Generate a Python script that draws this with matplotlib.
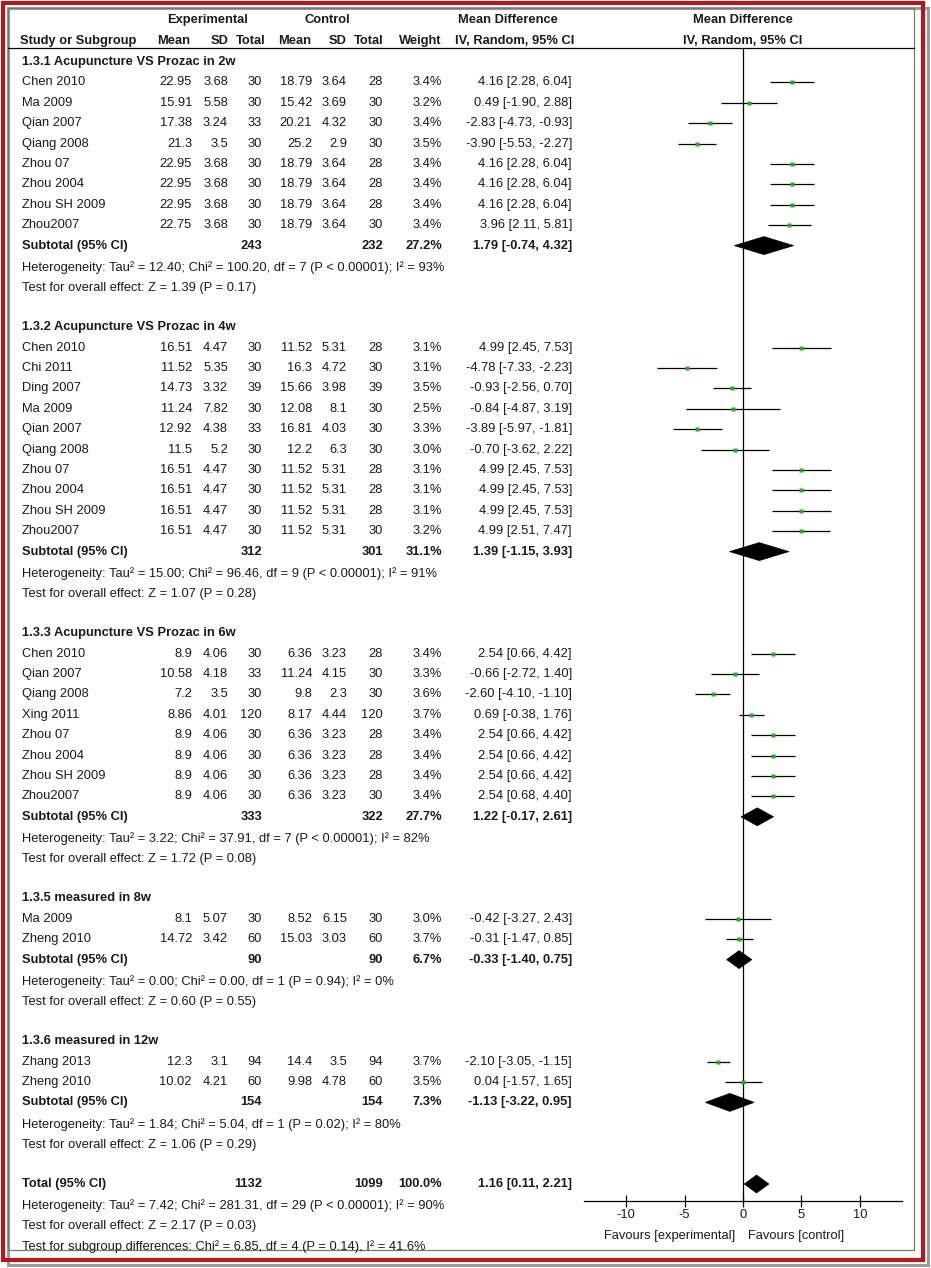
import matplotlib.pyplot as plt
from matplotlib.patches import Rectangle, Polygon

plt.rcParams['font.family'] = ['Liberation Sans', 'DejaVu Sans']

# ---------------- data ----------------
group_titles = ["1.3.1 Acupuncture VS Prozac in 2w", "1.3.2 Acupuncture VS Prozac in 4w",
                "1.3.3 Acupuncture VS Prozac in 6w", "1.3.5 measured in 8w",
                "1.3.6 measured in 12w"]

study = ["Chen 2010", "Ma 2009", "Qian 2007", "Qiang 2008", "Zhou 07", "Zhou 2004", "Zhou SH 2009", "Zhou2007",
         "Chen 2010", "Chi 2011", "Ding 2007", "Ma 2009", "Qian 2007", "Qiang 2008", "Zhou 07", "Zhou 2004",
         "Zhou SH 2009", "Zhou2007",
         "Chen 2010", "Qian 2007", "Qiang 2008", "Xing 2011", "Zhou 07", "Zhou 2004", "Zhou SH 2009", "Zhou2007",
         "Ma 2009", "Zheng 2010",
         "Zhang 2013", "Zheng 2010"]
group_of = [0] * 8 + [1] * 10 + [2] * 8 + [3] * 2 + [4] * 2

exp_mean = [22.95, 15.91, 17.38, 21.3, 22.95, 22.95, 22.95, 22.75,
            16.51, 11.52, 14.73, 11.24, 12.92, 11.5, 16.51, 16.51, 16.51, 16.51,
            8.9, 10.58, 7.2, 8.86, 8.9, 8.9, 8.9, 8.9,
            8.1, 14.72,
            12.3, 10.02]
exp_sd = [3.68, 5.58, 3.24, 3.5, 3.68, 3.68, 3.68, 3.68,
          4.47, 5.35, 3.32, 7.82, 4.38, 5.2, 4.47, 4.47, 4.47, 4.47,
          4.06, 4.18, 3.5, 4.01, 4.06, 4.06, 4.06, 4.06,
          5.07, 3.42,
          3.1, 4.21]
exp_n = [30, 30, 33, 30, 30, 30, 30, 30,
         30, 30, 39, 30, 33, 30, 30, 30, 30, 30,
         30, 33, 30, 120, 30, 30, 30, 30,
         30, 60,
         94, 60]
ctl_mean = [18.79, 15.42, 20.21, 25.2, 18.79, 18.79, 18.79, 18.79,
            11.52, 16.3, 15.66, 12.08, 16.81, 12.2, 11.52, 11.52, 11.52, 11.52,
            6.36, 11.24, 9.8, 8.17, 6.36, 6.36, 6.36, 6.36,
            8.52, 15.03,
            14.4, 9.98]
ctl_sd = [3.64, 3.69, 4.32, 2.9, 3.64, 3.64, 3.64, 3.64,
          5.31, 4.72, 3.98, 8.1, 4.03, 6.3, 5.31, 5.31, 5.31, 5.31,
          3.23, 4.15, 2.3, 4.44, 3.23, 3.23, 3.23, 3.23,
          6.15, 3.03,
          3.5, 4.78]
ctl_n = [28, 30, 30, 30, 28, 28, 28, 30,
         28, 30, 39, 30, 30, 30, 28, 28, 28, 30,
         28, 30, 30, 120, 28, 28, 28, 30,
         30, 60,
         94, 60]
weight = [3.4, 3.2, 3.4, 3.5, 3.4, 3.4, 3.4, 3.4,
          3.1, 3.1, 3.5, 2.5, 3.3, 3.0, 3.1, 3.1, 3.1, 3.2,
          3.4, 3.3, 3.6, 3.7, 3.4, 3.4, 3.4, 3.4,
          3.0, 3.7,
          3.7, 3.5]
md = [4.16, 0.49, -2.83, -3.90, 4.16, 4.16, 4.16, 3.96,
      4.99, -4.78, -0.93, -0.84, -3.89, -0.70, 4.99, 4.99, 4.99, 4.99,
      2.54, -0.66, -2.60, 0.69, 2.54, 2.54, 2.54, 2.54,
      -0.42, -0.31,
      -2.10, 0.04]
ci_lo = [2.28, -1.90, -4.73, -5.53, 2.28, 2.28, 2.28, 2.11,
         2.45, -7.33, -2.56, -4.87, -5.97, -3.62, 2.45, 2.45, 2.45, 2.51,
         0.66, -2.72, -4.10, -0.38, 0.66, 0.66, 0.66, 0.68,
         -3.27, -1.47,
         -3.05, -1.57]
ci_hi = [6.04, 2.88, -0.93, -2.27, 6.04, 6.04, 6.04, 5.81,
         7.53, -2.23, 0.70, 3.19, -1.81, 2.22, 7.53, 7.53, 7.53, 7.47,
         4.42, 1.40, -1.10, 1.76, 4.42, 4.42, 4.42, 4.40,
         2.43, 0.85,
         -1.15, 1.65]

sub_exp_n = [243, 312, 333, 90, 154]
sub_ctl_n = [232, 301, 322, 90, 154]
sub_weight = [27.2, 31.1, 27.7, 6.7, 7.3]
sub_md = [1.79, 1.39, 1.22, -0.33, -1.13]
sub_lo = [-0.74, -1.15, -0.17, -1.40, -3.22]
sub_hi = [4.32, 3.93, 2.61, 0.75, 0.95]
sub_het = ["Heterogeneity: Tau² = 12.40; Chi² = 100.20, df = 7 (P < 0.00001); I² = 93%",
           "Heterogeneity: Tau² = 15.00; Chi² = 96.46, df = 9 (P < 0.00001); I² = 91%",
           "Heterogeneity: Tau² = 3.22; Chi² = 37.91, df = 7 (P < 0.00001); I² = 82%",
           "Heterogeneity: Tau² = 0.00; Chi² = 0.00, df = 1 (P = 0.94); I² = 0%",
           "Heterogeneity: Tau² = 1.84; Chi² = 5.04, df = 1 (P = 0.02); I² = 80%"]
sub_test = ["Test for overall effect: Z = 1.39 (P = 0.17)",
            "Test for overall effect: Z = 1.07 (P = 0.28)",
            "Test for overall effect: Z = 1.72 (P = 0.08)",
            "Test for overall effect: Z = 0.60 (P = 0.55)",
            "Test for overall effect: Z = 1.06 (P = 0.29)"]

total_exp_n, total_ctl_n, total_weight = 1132, 1099, 100.0
total_md, total_lo, total_hi = 1.16, 0.11, 2.21
total_notes = ["Heterogeneity: Tau² = 7.42; Chi² = 281.31, df = 29 (P < 0.00001); I² = 90%",
               "Test for overall effect: Z = 2.17 (P = 0.03)",
               "Test for subgroup differences: Chi² = 6.85, df = 4 (P = 0.14), I² = 41.6%"]

xticks = [-10, -5, 0, 5, 10]

# ---------------- layout ----------------
W, H = 931, 1268
ROW0, ROWH = 62, 20.4
FS = 9.3
TXT = '#1a1a1a'
# right edges of the table columns (pixels)
col_x = [192, 228, 262, 312, 347, 383, 442, 572]


def ypix(r):
    return ROW0 + ROWH * r


fig = plt.figure(figsize=(W / 100, H / 100), dpi=100)
bg = fig.add_axes([0, 0, 1, 1])
bg.set_xlim(0, W)
bg.set_ylim(H, 0)
bg.axis('off')

# frame: shadow, red border, inner panel
bg.add_patch(Rectangle((7.5, 8), 920, 1257, fill=False, ec='#9c9c9c', lw=2.2))
bg.add_patch(Rectangle((2.5, 3), 920, 1257, fill=False, ec='#b3181d', lw=3.0))
inner = Rectangle((8, 8), 906, 1242, fill=False, ec='#777777', lw=0.9)
bg.add_patch(inner)


def txt(x, r, s, ha='left', bold=False, dy=0.0):
    t = bg.text(x, ypix(r) + dy, s, ha=ha, va='center', fontsize=FS,
                color=TXT, fontweight='bold' if bold else 'normal')
    t.set_clip_path(inner)
    return t


# headers
bg.text(208, 20, "Experimental", ha='center', va='center', fontsize=FS, fontweight='bold', color=TXT)
bg.text(327, 20, "Control", ha='center', va='center', fontsize=FS, fontweight='bold', color=TXT)
bg.text(508, 20, "Mean Difference", ha='center', va='center', fontsize=FS, fontweight='bold', color=TXT)
bg.text(743, 20, "Mean Difference", ha='center', va='center', fontsize=FS, fontweight='bold', color=TXT)
bg.text(743, 41, "IV, Random, 95% CI", ha='center', va='center', fontsize=FS, fontweight='bold', color=TXT)
bg.text(20, 41, "Study or Subgroup", ha='left', va='center', fontsize=FS, fontweight='bold', color=TXT)
for x, s in zip([190, 229, 265, 311, 347, 383, 441, 574],
                ["Mean", "SD", "Total", "Mean", "SD", "Total", "Weight", "IV, Random, 95% CI"]):
    bg.text(x, 41, s, ha='right', va='center', fontsize=FS, fontweight='bold', color=TXT)
bg.plot([8, 914], [48, 48], color='black', lw=0.9)

# table rows
study_rows, sub_rows = [], []
r = 0
for g, title in enumerate(group_titles):
    txt(22, r, title, bold=True)
    r += 1
    for i in [k for k, gg in enumerate(group_of) if gg == g]:
        txt(22, r, study[i])
        vals = [str(exp_mean[i]), str(exp_sd[i]), str(exp_n[i]), str(ctl_mean[i]),
                str(ctl_sd[i]), str(ctl_n[i]), f"{weight[i]:.1f}%",
                f"{md[i]:.2f} [{ci_lo[i]:.2f}, {ci_hi[i]:.2f}]"]
        for x, s in zip(col_x, vals):
            txt(x, r, s, ha='right')
        study_rows.append(r)
        r += 1
    txt(22, r, "Subtotal (95% CI)", bold=True)
    txt(col_x[2], r, str(sub_exp_n[g]), ha='right', bold=True)
    txt(col_x[5], r, str(sub_ctl_n[g]), ha='right', bold=True)
    txt(col_x[6], r, f"{sub_weight[g]:.1f}%", ha='right', bold=True)
    txt(col_x[7], r, f"{sub_md[g]:.2f} [{sub_lo[g]:.2f}, {sub_hi[g]:.2f}]", ha='right', bold=True)
    sub_rows.append(r)
    txt(22, r + 1, sub_het[g], dy=1.5)
    txt(22, r + 2, sub_test[g], dy=1.5)
    r += 4

total_row = r
txt(22, r, "Total (95% CI)", bold=True)
txt(col_x[2], r, str(total_exp_n), ha='right', bold=True)
txt(col_x[5], r, str(total_ctl_n), ha='right', bold=True)
txt(col_x[6], r, f"{total_weight:.1f}%", ha='right', bold=True)
txt(col_x[7], r, f"{total_md:.2f} [{total_lo:.2f}, {total_hi:.2f}]", ha='right', bold=True)
for k, s in enumerate(total_notes):
    txt(22, r + 1 + k, s, dy=1.5)

# ---------------- forest panel ----------------
ax_l, ax_r, ax_t, ax_b = 584, 902, 48, 1201
fx = fig.add_axes([ax_l / W, 1 - ax_b / H, (ax_r - ax_l) / W, (ax_b - ax_t) / H])
fx.patch.set_alpha(0)
fx.set_xlim(-13.59, 13.59)
fx.set_ylim((ax_b - ROW0) / ROWH, (ax_t - ROW0) / ROWH)
for s in ['top', 'right', 'left']:
    fx.spines[s].set_visible(False)
fx.spines['bottom'].set_linewidth(0.9)
fx.set_yticks([])
fx.set_xticks(xticks)
fx.set_xticklabels([str(t) for t in xticks])
fx.tick_params(axis='x', direction='inout', length=8, width=0.9, labelsize=FS, pad=2,
               labelcolor=TXT)
fx.axvline(0, color='black', lw=0.9)

fx.hlines(study_rows, ci_lo, ci_hi, color='black', lw=0.9)
for yy, m, w in zip(study_rows, md, weight):
    fx.plot(m, yy, 's', color='#22ad22', ms=w * 0.95, mec='none')

dh = 0.44
for yy, m, lo, hi in zip(sub_rows + [total_row], sub_md + [total_md],
                         sub_lo + [total_lo], sub_hi + [total_hi]):
    fx.add_patch(Polygon([(lo, yy), (m, yy - dh), (hi, yy), (m, yy + dh)],
                         closed=True, fc='black', ec='black', lw=0.5))

bg.text(735, 1236, "Favours [experimental]", ha='right', va='center', fontsize=FS, color=TXT)
bg.text(748, 1236, "Favours [control]", ha='left', va='center', fontsize=FS, color=TXT)

fig.savefig('out.png', dpi=100)
